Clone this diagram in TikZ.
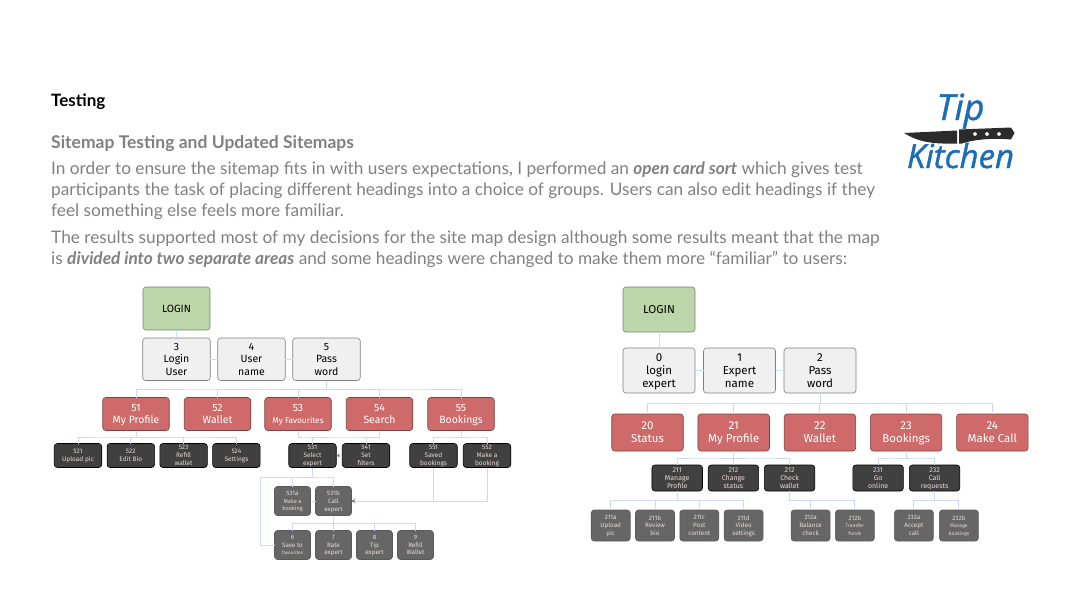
\documentclass[tikz,border=0pt]{standalone}
\usepackage{fontspec}
\setmainfont{Lato}
\newfontfamily\chartfont{Fira Sans}
\newfontfamily\logofont[ItalicFeatures={FakeBold=1.2}]{Open Sans}
\usetikzlibrary{arrows,arrows.meta,positioning,calc}

\definecolor{bodygrey}{HTML}{808080}
\definecolor{linkblue}{HTML}{CBDAF6}
\definecolor{tipblue}{HTML}{1C6DB8}
\definecolor{knifeblack}{HTML}{2B2B2B}
\definecolor{loginfill}{HTML}{BBD6A8}
\definecolor{userfill}{HTML}{F0F0F0}
\definecolor{headfill}{HTML}{CE6A6A}
\definecolor{subfill}{HTML}{404040}
\definecolor{leaffill}{HTML}{666666}
\definecolor{softtext}{HTML}{EAD8D8}

\tikzset{
  box/.style={draw,rounded corners=3pt,align=center,inner sep=0pt,outer sep=0pt,line width=.6pt,text depth=0pt},
  loginbox/.style={box,fill=loginfill,draw=black!50,font=\chartfont\fontsize{10.5}{12}\selectfont},
  userbox/.style={box,fill=userfill,draw=black!50,font=\chartfont\fontsize{10.5}{12.3}\selectfont},
  headbox/.style={box,fill=headfill,draw=headfill!60!black,text=white,font=\chartfont\fontsize{10.5}{12}\selectfont},
  subbox/.style={box,fill=subfill,draw=black,text=softtext,font=\chartfont\fontsize{6.5}{7.8}\selectfont},
  leafbox/.style={box,fill=leaffill,draw=black!65,text=softtext,font=\chartfont\fontsize{6.3}{7.8}\selectfont},
  llogin/.style={loginbox,minimum width=67pt,minimum height=43pt},
  luser/.style={userbox,minimum width=67.5pt,minimum height=42.5pt},
  lhead/.style={headbox,minimum width=66.5pt,minimum height=33pt},
  lsub/.style={subbox,minimum width=47.5pt,minimum height=24pt},
  lleaf/.style={leafbox,minimum width=36pt,minimum height=29pt},
  rlogin/.style={loginbox,minimum width=72pt,minimum height=45pt,font=\chartfont\fontsize{11.5}{13}\selectfont},
  ruser/.style={userbox,minimum width=72pt,minimum height=45pt,font=\chartfont\fontsize{11.5}{13}\selectfont},
  rhead/.style={headbox,minimum width=71.5pt,minimum height=37pt,font=\chartfont\fontsize{11.5}{13}\selectfont},
  rsub/.style={subbox,minimum width=50.5pt,minimum height=26pt,font=\chartfont\fontsize{7}{8.3}\selectfont},
  rleaf/.style={leafbox,minimum width=39pt,minimum height=31pt},
  tree/.style={to path={|- ($(\tikztostart)!.5!(\tikztotarget)$) -| (\tikztotarget)}},
  link/.style={draw=linkblue,line width=1pt},
  into/.style={link,-{Stealth[length=3.5pt,width=3.5pt,color=black!55]}},
  bodytext/.style={anchor=base west,inner sep=0pt,text=bodygrey,align=left,font=\fontsize{17.25}{20.6}\selectfont},
  logotext/.style={anchor=base,inner sep=0pt,text=tipblue,font=\logofont\itshape}
}

\begin{document}
\begin{tikzpicture}[x=1pt,y=-1pt]
  \useasboundingbox (0,0) rectangle (1067,600);

  % heading and text
  \node[anchor=base west,inner sep=0pt,font=\bfseries\fontsize{17}{20}\selectfont] (title) at (51,106) {Testing};
  \node[bodytext,font=\bfseries\fontsize{17.5}{20}\selectfont] (subtitle) at (51,148) {Sitemap Testing and Updated Sitemaps};
  \node[bodytext] (parta) at (51,216) {In order to ensure the sitemap fits in with users expectations, I performed an \textbf{\textit{open card sort}} which gives test\\
    participants the task of placing different headings into a choice of groups. Users can also edit headings if they\\
    feel something else feels more familiar.};
  \node[bodytext] (partb) at (51,264) {The results supported most of my decisions for the site map design although some results meant that the map\\
    is \textbf{\textit{divided into two separate areas}} and some headings were changed to make them more “familiar” to users:};

  % logo
  \node[logotext,font=\logofont\itshape\fontsize{36}{36}\selectfont] (tip) at (960.5,120) {Tip};
  \node[logotext,font=\logofont\itshape\fontsize{33}{34}\selectfont] (kitchen) at (960.5,168) {Kitchen};
  \fill[knifeblack] (904,133) -- (957,130.5) -- (957,143.5) .. controls (935,144) and (920,143) .. (904,133) -- cycle;
  \fill[knifeblack,even odd rule] (959,129.5) -- (1011,127.5) -- (1014.5,133) -- (1011,139.5) .. controls (995,138) and (975,139) .. (962,143.5) -- (959,143.5) -- cycle
    (975,134) circle (2) (987,134) circle (2) (999,134) circle (2);

  % left map
  \node[llogin] (lloginbox) at (176.5,308.5) {LOGIN};
  \node[luser] (l3) [below=8pt of lloginbox] {3\\Login\\User};
  \node[luser] (l4) [right=7.5pt of l3] {4\\User\\name};
  \node[luser] (l5) [right=7.5pt of l4] {5\\Pass\\word};

  \node[lhead] (l51) [below=17pt of l3,xshift=-40.5pt] {51\\My Profile};
  \node[lhead] (l52) [right=15pt of l51] {52\\Wallet};
  \node[lhead] (l53) [right=14pt of l52] {53\\\fontsize{8.3}{12}\selectfont My Favourites};
  \node[lhead] (l54) [right=15pt of l53] {54\\Search};
  \node[lhead] (l55) [right=15pt of l54] {55\\Bookings};

  \node[lsub] (l521) [below=13pt of l51,xshift=-58pt] {521\\Upload pic};
  \node[lsub] (l522) [right=5.3pt of l521] {522\\Edit Bio};
  \node[lsub] (l523) [right=5.3pt of l522] {523\\Refill\\wallet};
  \node[lsub] (l524) [right=5.3pt of l523] {524\\Settings};
  \node[lsub] (l531) [below=13pt of l53,xshift=14.5pt] {531\\Select\\expert};
  \node[lsub] (l541) [right=6pt of l531] {541\\Set\\filters};
  \node[lsub] (l551) [right=20pt of l541] {551\\Saved\\bookings};
  \node[lsub] (l552) [right=6pt of l551] {552\\Make a\\booking};

  \node[lleaf] (l531a) [below=19pt of l531,xshift=-20pt] {531a\\\fontsize{5.6}{7.5}\selectfont Make a\\\fontsize{5.6}{7.5}\selectfont booking};
  \node[lleaf] (l531b) [right=5pt of l531a] {531b\\Call\\expert};
  \node[lleaf] (l6) [below=15pt of l531a] {6\\Save to\\\fontsize{4.6}{6}\selectfont favourites};
  \node[lleaf] (l7) [right=5pt of l6] {7\\Rate\\expert};
  \node[lleaf] (l8) [right=5pt of l7] {8\\Tip\\expert};
  \node[lleaf] (l9) [right=5pt of l8] {9\\Refill\\Wallet};
  \coordinate (lturn) at ($(l531a.north west)+(-14pt,9.5pt)$);

  \path[link] (lloginbox) edge (l3) (l3) edge (l4) (l4) edge (l5)
    (l5.south) edge[tree] (l51.north) (l5.south) edge[tree] (l52.north) (l5.south) edge[tree] (l53.north)
    (l5.south) edge[tree] (l54.north) (l5.south) edge[tree] (l55.north)
    (l51.south) edge[tree] (l521.north) (l51.south) edge[tree] (l522.north)
    (l51.south) edge[tree] (l523.north) (l51.south) edge[tree] (l524.north)
    (l53.south) edge[tree] (l531.north) (l54.south) edge[tree] (l531.north) (l54.south) edge[tree] (l541.north)
    (l55.south) edge[tree] (l551.north) (l55.south) edge[tree] (l552.north)
    (l531.south) edge[tree] (l531a.north) (l531.south) edge[tree] (l531b.north)
    (l531a) edge (l531b)
    (l531b.south) edge[tree] (l6.north) (l531b.south) edge[tree] (l7.north)
    (l531b.south) edge[tree] (l8.north) (l531b.south) edge[tree] (l9.north);
  \draw[link] (l531.south) |- (lturn) |- (l6.west);
  \draw[into] (l541) -- (l531);
  \draw[into] (l551.south) |- (l531b.east);
  \draw[into] (l552.south) |- (l531b.east);

  % right map
  \node[rlogin] (rloginbox) at (659,309.5) {LOGIN};
  \node[ruser] (r0) [below=16pt of rloginbox] {0\\login\\expert};
  \node[ruser] (r1) [right=8.5pt of r0] {1\\Expert\\name};
  \node[ruser] (r2) [right=8.5pt of r1] {2\\Pass\\word};

  \node[rhead] (r20) [below=21pt of r0,xshift=-11.5pt] {20\\Status};
  \node[rhead] (r21) [right=14.7pt of r20] {21\\My Profile};
  \node[rhead] (r22) [right=14.7pt of r21] {22\\Wallet};
  \node[rhead] (r23) [right=14.7pt of r22] {23\\Bookings};
  \node[rhead] (r24) [right=14.7pt of r23] {24\\Make Call};

  \node[rsub] (r211) [below=14pt of r21,xshift=-56.5pt] {211\\Manage\\Profile};
  \node[rsub] (r212) [right=5.7pt of r211] {212\\Change\\status};
  \node[rsub] (r212c) [right=5.7pt of r212] {212\\Check\\wallet};
  \node[rsub] (r231) [right=38pt of r212c] {231\\Go\\online};
  \node[rsub] (r232) [right=6pt of r231] {232\\Call\\requests};

  \node[rleaf] (r211a) [below=19pt of r211,xshift=-66.5pt] {211a\\Upload\\pic};
  \node[rleaf] (r211b) [right=5.3pt of r211a] {211b\\Review\\bio};
  \node[rleaf] (r211c) [right=5.3pt of r211b] {211c\\Post\\content};
  \node[rleaf] (r211d) [right=5.3pt of r211c] {211d\\Video\\settings};
  \node[rleaf] (r212a) [right=28pt of r211d] {212a\\Balance\\check};
  \node[rleaf] (r212b) [right=5.3pt of r212a] {212b\\\fontsize{5}{6.5}\selectfont Transfer\\\fontsize{5}{6.5}\selectfont funds};
  \node[rleaf] (r232a) [right=20pt of r212b] {232a\\Accept\\call};
  \node[rleaf] (r232b) [right=6pt of r232a] {232b\\\fontsize{5}{6.5}\selectfont Manage\\\fontsize{5}{6.5}\selectfont bookings};

  \path[link] (rloginbox) edge (r0) (r0) edge (r1) (r1) edge (r2)
    (r2.south) edge[tree] (r20.north) (r2.south) edge[tree] (r21.north) (r2.south) edge[tree] (r22.north)
    (r2.south) edge[tree] (r23.north) (r2.south) edge[tree] (r24.north)
    (r21.south) edge[tree] (r211.north) (r21.south) edge[tree] (r212.north) (r21.south) edge[tree] (r212c.north)
    (r23.south) edge[tree] (r231.north) (r23.south) edge[tree] (r232.north)
    (r211.south) edge[tree] (r211a.north) (r211.south) edge[tree] (r211b.north)
    (r211.south) edge[tree] (r211c.north) (r211.south) edge[tree] (r211d.north)
    (r212c.south) edge[tree] (r212a.north) (r212c.south) edge[tree] (r212b.north)
    (r232.south) edge[tree] (r232a.north) (r232.south) edge[tree] (r232b.north);
\end{tikzpicture}
\end{document}
